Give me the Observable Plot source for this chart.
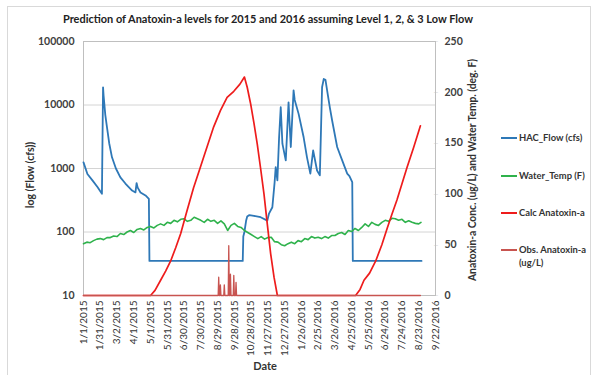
<!DOCTYPE html>
<html>
<head>
<meta charset="utf-8">
<script src="https://cdn.jsdelivr.net/npm/d3@7"></script>
<script src="https://cdn.jsdelivr.net/npm/@observablehq/plot@0.6"></script>
<style>
  html, body { margin: 0; padding: 0; background: #fff; }
  #chart { width: 597px; height: 375px; }
</style>
</head>
<body>
<div id="chart"></div>
<script>
// ---- Data (days counted from 1/1/2015) ----
const flowDays = [0, 7, 16, 25, 33, 35, 36, 39, 42, 46, 51, 58, 66, 75, 87, 93, 95, 97, 102, 111, 117, 118,
  285, 286, 288, 291, 293, 297, 305, 317, 329, 332, 338, 342, 344, 347, 350, 353, 356, 362, 367, 371, 376, 378,
  385, 394, 400, 406, 411, 418, 423, 427, 430, 433, 437, 441, 445, 454, 463, 472, 476, 481, 482, 605];
const flowValues = [1250, 820, 650, 510, 400, 19000, 14000, 7000, 4470, 2500, 1500, 1000, 725, 580, 450, 420, 590, 500, 420, 376, 333, 35,
  35, 85, 100, 150, 175, 185, 180, 171, 151, 195, 245, 600, 1050, 650, 3000, 9230, 2460, 1340, 11000, 2180, 17000, 12000,
  7250, 3100, 1500, 830, 1920, 930, 780, 19000, 25700, 25000, 15000, 9000, 5700, 2180, 1340, 830, 760, 610, 35, 35];

const tempDays = [0, 6, 12, 18, 24, 30, 36, 42, 48, 54, 60, 66, 72, 78, 84, 90, 96, 102, 108, 114, 120, 126, 132, 138,
  144, 150, 156, 162, 168, 174, 180, 186, 192, 198, 204, 210, 216, 222, 228, 234, 240, 246, 252, 258, 264, 270, 276,
  282, 288, 294, 300, 306, 312, 318, 324, 330, 336, 342, 348, 354, 360, 366, 372, 378, 384, 390, 396, 402, 408, 414,
  420, 426, 432, 438, 444, 450, 456, 462, 468, 474, 480, 486, 492, 498, 504, 510, 516, 522, 528, 534, 540, 546, 552,
  558, 564, 570, 576, 582, 588, 594, 600, 604];
const tempValues = [51, 52.5, 52, 54, 55.5, 56, 55, 57, 57, 58.5, 58, 61, 60, 62.5, 64, 62, 65, 66, 64.5, 67, 68, 66.5, 69, 70.5,
  69, 72, 71, 74, 72.5, 75, 75.5, 73, 74, 77, 75.5, 74, 72, 75, 73, 74, 71, 73.5, 70.5, 64, 69, 71, 68,
  67, 64, 62, 60, 58, 56, 58, 55.5, 57, 57.4, 53, 52.5, 50, 49, 51, 52.5, 51, 54, 53, 56, 55, 58, 56.5,
  57.4, 56, 58, 56.5, 59, 59, 61, 62, 60, 64, 63, 66, 64, 67, 70.5, 68, 72, 70, 69, 72, 74, 73, 76,
  75.5, 74, 75, 72, 73.5, 72, 71, 70.5, 72];

const calcDays = [0, 120, 128, 138, 147, 156, 165, 174, 185, 197, 209, 215, 224, 233, 245, 257, 269, 280, 288, 293, 299,
  305, 311, 317, 323, 329, 335, 341, 347, 487, 495, 502, 512, 523, 534, 544, 552, 561, 570, 579, 591, 603];
const calcValues = [0, 0, 5, 15, 24, 34, 47, 61, 83, 106, 126, 136, 151, 166, 182, 195, 201, 208, 215, 205, 189,
  170, 149, 125, 100, 70, 41, 18, 0, 0, 6, 15, 22, 34, 50, 67, 80, 94, 110, 126, 146, 167];

const obsDays = [0, 241, 242, 243, 244, 245, 246, 251, 252, 253, 259, 260, 261, 262, 263, 264, 268, 269, 270, 272, 273, 274, 603];
const obsValues = [0, 0, 18, 0, 0, 10.5, 0, 0, 10.5, 0, 0, 49, 0, 0, 21, 0, 0, 19.7, 0, 0, 13, 0, 0];

const xTickDays = d3.range(0, 631, 30);
const leftTicks = [10, 100, 1000, 10000, 100000];
const leftGrid = [100, 1000, 10000];
const rightTicks = [0, 50, 100, 150, 200, 250];

const seriesNames = ["HAC_Flow (cfs)", "Water_Temp (F)", "Calc Anatoxin-a", "Obs. Anatoxin-a (ug/L)"];
const seriesColors = ["#2e78b7", "#2fb24c", "#ee1c1c", "#c85450"];

// ---- helpers ----
const t0 = Date.UTC(2015, 0, 1);
const dayToDate = d => new Date(t0 + d * 864e5);
// right axis (0..250 linear) expressed in the left log scale (10..100000)
const toLeft = v => Math.pow(10, 1 + v / 62.5);
const fmtDate = d => `${d.getUTCMonth() + 1}/${d.getUTCDate()}/${d.getUTCFullYear()}`;

const flow = flowDays.map((d, i) => ({date: dayToDate(d), y: flowValues[i]}));
const temp = tempDays.map((d, i) => ({date: dayToDate(d), y: toLeft(tempValues[i])}));
const calc = calcDays.map((d, i) => ({date: dayToDate(d), y: toLeft(calcValues[i])}));
const obs = obsDays.map((d, i) => ({date: dayToDate(d), y: toLeft(obsValues[i])}));
const rightTickData = rightTicks.map(v => ({v, y: toLeft(v)}));

const font = "Lato, 'Open Sans', sans-serif";
const W = 597, H = 375;
const chart = Plot.plot({
  width: W, height: H,
  marginLeft: 83, marginRight: 162, marginTop: 41, marginBottom: 80,
  style: {fontFamily: font, fontSize: "10px", color: "#404040", background: "#fff"},
  x: {type: "utc", domain: [dayToDate(0), dayToDate(630)]},
  y: {type: "log", domain: [10, 100000]},
  marks: [
    Plot.gridY(leftGrid, {stroke: "#d4d4d4", strokeOpacity: 1}),
    Plot.frame({stroke: "#bfbfbf"}),
    Plot.axisX(xTickDays.map(dayToDate), {tickFormat: fmtDate, tickRotate: -90, tickSize: 0, tickPadding: 5,
      fontSize: 10, fill: "#333", label: null}),
    Plot.axisY(leftTicks, {anchor: "left", tickFormat: d => String(d), tickSize: 0, tickPadding: 9,
      fontSize: 10.5, fontWeight: "bold", fill: "#404040", label: null}),
    // right axis: tick marks and labels placed through the y scale
    Plot.text(rightTickData, {y: "y", text: () => "\u2014", frameAnchor: "right", textAnchor: "start",
      dx: -2, fontSize: 6, fill: "#bfbfbf"}),
    Plot.text(rightTickData, {y: "y", text: d => String(d.v), frameAnchor: "right", textAnchor: "start",
      dx: 9, fontSize: 10.5, fontWeight: "bold", fill: "#404040"}),
    Plot.line(flow, {x: "date", y: "y", stroke: seriesColors[0], strokeWidth: 1.8}),
    Plot.line(temp, {x: "date", y: "y", stroke: seriesColors[1], strokeWidth: 1.6}),
    Plot.line(calc, {x: "date", y: "y", stroke: seriesColors[2], strokeWidth: 1.7}),
    Plot.line(obs, {x: "date", y: "y", stroke: seriesColors[3], strokeWidth: 1.3})
  ]
});
document.getElementById("chart").appendChild(chart);

// ---- annotations: border, titles, legend ----
const svg = d3.select(chart);
svg.insert("rect", ":first-child")
  .attr("x", 7.5).attr("y", 6.5).attr("width", 583).attr("height", 400)
  .attr("fill", "#fff").attr("stroke", "#d9d9d9");

svg.append("text").attr("x", 268).attr("y", 23).attr("text-anchor", "middle")
  .attr("font-family", font).attr("font-size", 11.8).attr("font-weight", "bold").attr("fill", "#222")
  .attr("textLength", 410).attr("lengthAdjust", "spacingAndGlyphs")
  .text("Prediction of Anatoxin-a levels for 2015 and 2016 assuming Level 1, 2, & 3 Low Flow");

svg.append("text").attr("transform", "translate(34,175) rotate(-90)").attr("text-anchor", "middle")
  .attr("font-family", font).attr("font-size", 10.5).attr("font-weight", "bold").attr("fill", "#333")
  .text("log (Flow (cfs))");

svg.append("text").attr("transform", "translate(476,170) rotate(-90)").attr("text-anchor", "middle")
  .attr("font-family", font).attr("font-size", 10.5).attr("font-weight", "bold").attr("fill", "#333")
  .attr("textLength", 222).attr("lengthAdjust", "spacingAndGlyphs")
  .text("Anatoxin-a Conc. (ug/L) and Water Temp. (deg. F)");

svg.append("text").attr("x", 265).attr("y", 370).attr("text-anchor", "middle")
  .attr("font-family", font).attr("font-size", 11).attr("font-weight", "bold").attr("fill", "#333")
  .text("Date");

const legendY = [138, 176, 213, 250];
const lg = svg.append("g").attr("font-family", font).attr("font-size", 9.4).attr("font-weight", "bold")
  .attr("fill", "#333").attr("text-anchor", "start");
seriesNames.forEach((name, i) => {
  const y = legendY[i];
  lg.append("line").attr("x1", 501).attr("x2", 517).attr("y1", y).attr("y2", y)
    .attr("stroke", seriesColors[i]).attr("stroke-width", 2);
  const t = lg.append("text").attr("x", 519).attr("y", y).attr("dy", "0.35em").attr("text-anchor", "start");
  if (i === 3) {
    t.append("tspan").attr("x", 519).text("Obs. Anatoxin-a");
    t.append("tspan").attr("x", 519).attr("dy", "1.35em").text("(ug/L)");
  } else {
    t.text(name);
  }
});
</script>
</body>
</html>
